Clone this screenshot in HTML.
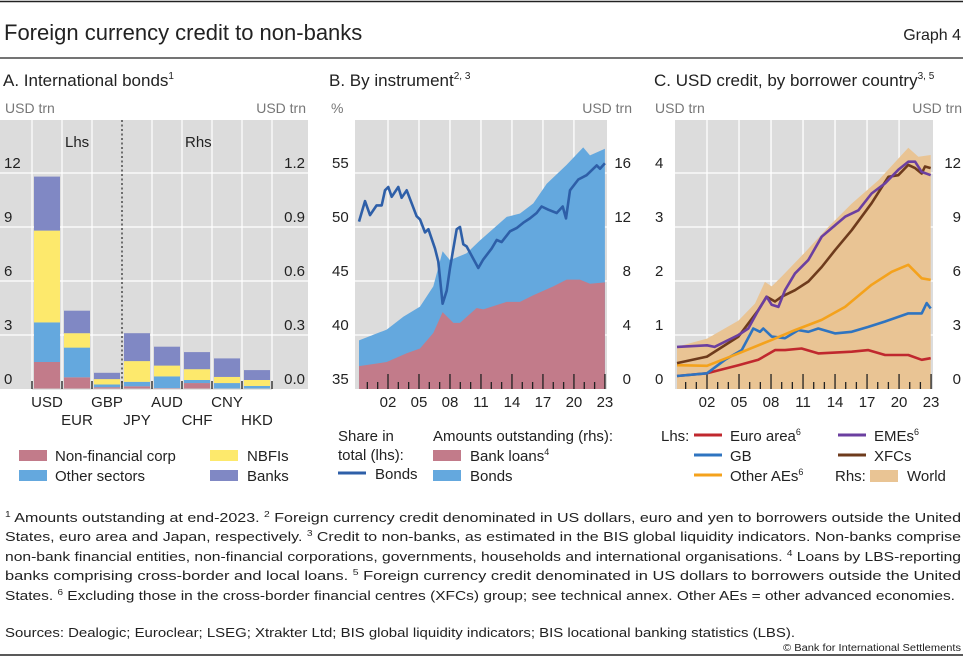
<!DOCTYPE html>
<html><head><meta charset="utf-8">
<style>
html,body{margin:0;padding:0;background:#fff;}
svg{display:block;font-family:"Liberation Sans",sans-serif;}
</style></head>
<body>
<svg id="chart" width="965" height="657" viewBox="0 0 965 657" xmlns="http://www.w3.org/2000/svg">
<line x1="0" y1="1.5" x2="963" y2="1.5" stroke="#222" stroke-width="1.5"/>
<text x="4" y="40" font-size="22" fill="#222">Foreign currency credit to non-banks</text>
<text x="961" y="40" font-size="16" fill="#222" text-anchor="end">Graph 4</text>
<line x1="0" y1="58" x2="963" y2="58" stroke="#222" stroke-width="1.2"/>

<text x="3" y="86" font-size="17" fill="#222">A. International bonds<tspan font-size="10" dy="-7">1</tspan></text>
<text x="329" y="86" font-size="17" fill="#222">B. By instrument<tspan font-size="10" dy="-7">2, 3</tspan></text>
<text x="654" y="86" font-size="17" fill="#222">C. USD credit, by borrower country<tspan font-size="10" dy="-7">3, 5</tspan></text>

<text x="5" y="113" font-size="14" fill="#777">USD trn</text>
<text x="306" y="113" font-size="14" fill="#777" text-anchor="end">USD trn</text>
<text x="331" y="113" font-size="14" fill="#777">%</text>
<text x="632" y="113" font-size="14" fill="#777" text-anchor="end">USD trn</text>
<text x="655" y="113" font-size="14" fill="#777">USD trn</text>
<text x="962" y="113" font-size="14" fill="#777" text-anchor="end">USD trn</text>

<g id="pa"></g>
<g id="pb"></g>
<g id="pc"></g>

<!-- Legend A -->
<g font-size="15" fill="#222">
<rect x="19" y="450" width="28" height="11" fill="#c27b8a"/>
<text x="55" y="461">Non-financial corp</text>
<rect x="19" y="470" width="28" height="11" fill="#64a8de"/>
<text x="55" y="481">Other sectors</text>
<rect x="210" y="450" width="28" height="11" fill="#fde96c"/>
<text x="247" y="461">NBFIs</text>
<rect x="210" y="470" width="28" height="11" fill="#8088c4"/>
<text x="247" y="481">Banks</text>
</g>
<!-- Legend B -->
<g font-size="15" fill="#222">
<text x="338" y="441">Share in</text>
<text x="338" y="460">total (lhs):</text>
<line x1="338" y1="473" x2="366" y2="473" stroke="#2e5fa8" stroke-width="3"/>
<text x="375" y="479">Bonds</text>
<text x="433" y="441">Amounts outstanding (rhs):</text>
<rect x="433" y="450" width="28" height="11" fill="#c27b8a"/>
<text x="470" y="461">Bank loans<tspan font-size="9" dy="-6">4</tspan></text>
<rect x="433" y="470" width="28" height="11" fill="#64a8de"/>
<text x="470" y="481">Bonds</text>
</g>
<!-- Legend C -->
<g font-size="15" fill="#222">
<text x="661" y="441">Lhs:</text>
<line x1="694" y1="435" x2="722" y2="435" stroke="#c0282e" stroke-width="3"/>
<text x="730" y="441">Euro area<tspan font-size="9" dy="-6">6</tspan></text>
<line x1="694" y1="455" x2="722" y2="455" stroke="#2f74c0" stroke-width="3"/>
<text x="730" y="461">GB</text>
<line x1="694" y1="475" x2="722" y2="475" stroke="#f4a21c" stroke-width="3"/>
<text x="730" y="481">Other AEs<tspan font-size="9" dy="-6">6</tspan></text>
<line x1="838" y1="435" x2="866" y2="435" stroke="#6b3fa0" stroke-width="3"/>
<text x="874" y="441">EMEs<tspan font-size="9" dy="-6">6</tspan></text>
<line x1="838" y1="455" x2="866" y2="455" stroke="#6e3b1c" stroke-width="3"/>
<text x="874" y="461">XFCs</text>
<text x="835" y="481">Rhs:</text>
<rect x="870" y="470" width="28" height="12" fill="#e9c494"/>
<text x="907" y="481">World</text>
</g>

<!-- Footnotes -->
<g font-size="12.5" fill="#222">
<text x="5" y="522" textLength="956" lengthAdjust="spacingAndGlyphs"><tspan font-size="8" dy="-5">1</tspan><tspan dy="5">  Amounts outstanding at end-2023.   </tspan><tspan font-size="8" dy="-5">2</tspan><tspan dy="5">  Foreign currency credit denominated in US dollars, euro and yen to borrowers outside the United</tspan></text>
<text x="5" y="541" textLength="956" lengthAdjust="spacingAndGlyphs">States, euro area and Japan, respectively.   <tspan font-size="8" dy="-5">3</tspan><tspan dy="5">  Credit to non-banks, as estimated in the BIS global liquidity indicators. Non-banks comprise</tspan></text>
<text x="5" y="561" textLength="956" lengthAdjust="spacingAndGlyphs">non-bank financial entities, non-financial corporations, governments, households and international organisations.   <tspan font-size="8" dy="-5">4</tspan><tspan dy="5">  Loans by LBS-reporting</tspan></text>
<text x="5" y="580" textLength="956" lengthAdjust="spacingAndGlyphs">banks comprising cross-border and local loans.   <tspan font-size="8" dy="-5">5</tspan><tspan dy="5">  Foreign currency credit denominated in US dollars to borrowers outside the United</tspan></text>
<text x="5" y="600" textLength="950" lengthAdjust="spacingAndGlyphs">States.   <tspan font-size="8" dy="-5">6</tspan><tspan dy="5">  Excluding those in the cross-border financial centres (XFCs) group; see technical annex. Other AEs = other advanced economies.</tspan></text>
<text x="5" y="637" textLength="790" lengthAdjust="spacingAndGlyphs">Sources: Dealogic; Euroclear; LSEG; Xtrakter Ltd; BIS global liquidity indicators; BIS locational banking statistics (LBS).</text>
<text x="961" y="651" font-size="10" text-anchor="end" textLength="178" lengthAdjust="spacingAndGlyphs">© Bank for International Settlements</text>
</g>
<line x1="0" y1="655" x2="963" y2="655" stroke="#222" stroke-width="1.5"/>
</svg>
<script>
// ---------- Panel A data ----------
const aCategories = ["USD","EUR","GBP","JPY","AUD","CHF","CNY","HKD"];
const aAxisSide = ["lhs","lhs","lhs","rhs","rhs","rhs","rhs","rhs"];
const aNonFinancial = [1.5, 0.65, 0.1, 0.015, 0.005, 0.033, 0.003, 0.003];
const aOtherSectors = [2.2, 1.65, 0.15, 0.025, 0.065, 0.017, 0.03, 0.014];
const aNBFIs = [5.1, 0.8, 0.3, 0.115, 0.06, 0.06, 0.034, 0.033];
const aBanks = [3.0, 1.25, 0.35, 0.155, 0.105, 0.095, 0.103, 0.055];
const aLeftTicks = [0, 3, 6, 9, 12];
const aRightTicks = ["0.0","0.3","0.6","0.9","1.2"];

// ---------- Panel B data ----------
const bShareYears = [1999.19,1999.77,2000.26,2000.9,2001.39,2001.71,2002.03,2002.36,2003.0,2003.32,2003.81,2004.77,2005.1,2005.58,2005.91,2006.55,2006.87,2007.29,2007.68,2008.0,2008.65,2008.97,2009.29,2009.61,2010.74,2011.23,2012.03,2012.52,2013.0,2013.81,2014.45,2015.1,2015.74,2016.39,2016.87,2017.52,2018.33,2018.91,2019.23,2019.62,2020.42,2021.23,2022.2,2022.52,2023.0];
const bShareBonds = [50.5,52.4,51.1,52.0,52.0,53.4,53.7,52.8,53.7,52.7,53.4,51.0,50.7,49.5,49.8,48.0,46.8,42.9,44.1,46.2,49.8,50.0,48.4,48.2,46.2,47.0,48.0,48.8,48.6,49.6,49.9,50.4,50.8,51.3,51.9,51.6,51.3,51.9,50.8,53.4,54.4,54.8,55.7,55.4,55.9];
const bLoanYears = [1999.19,2001.87,2003.81,2005.1,2006.39,2007.29,2008.33,2008.97,2010.58,2011.23,2013.49,2014.78,2016.07,2018.0,2019.29,2020.58,2021.55,2023.0];
const bBankLoans = [1.7,2.0,2.65,3.0,4.15,5.7,4.9,4.9,6.0,5.9,6.45,6.45,6.95,7.6,8.1,8.1,7.8,7.9];
const bTotalYears = [1999.19,2001.87,2003.48,2005.1,2006.39,2007.29,2008.0,2009.61,2010.9,2013.49,2014.78,2016.07,2017.36,2019.29,2020.9,2021.55,2023.0];
const bTotalCredit = [3.6,4.4,5.35,6.1,7.6,10.2,9.55,10.05,11.0,12.75,13.0,13.75,15.2,16.6,17.9,17.3,17.8];
const bLeftTicks = [35,40,45,50,55];
const bRightTicks = [0,4,8,12,16];
const yearTickLabels = ["02","05","08","11","14","17","20","23"];

// ---------- Panel C data ----------
const cWorldYears = [1999.19,2002.0,2004.94,2006.5,2007.43,2008.06,2009.0,2011.19,2013.37,2015.56,2018.06,2020.87,2021.81,2022.97];
const cWorld = [2.35,2.8,3.8,4.75,5.95,5.7,6.25,7.6,9.0,10.3,11.6,13.4,12.9,13.0];
const cEmeYears = [1999.19,2002.0,2002.7,2004.94,2005.87,2006.81,2007.59,2008.06,2008.69,2009.31,2010.25,2011.5,2012.75,2013.69,2014.94,2016.19,2017.43,2018.69,2019.93,2020.87,2021.5,2022.12,2022.97];
const cEmes = [0.78,0.81,0.78,1.0,1.12,1.46,1.71,1.56,1.52,1.83,2.14,2.39,2.82,2.98,3.19,3.31,3.62,3.81,4.06,4.21,4.21,4.02,3.96];
const cXfcYears = [1999.19,2002.0,2004.94,2006.81,2007.59,2008.37,2009.0,2010.25,2011.5,2012.75,2014.0,2015.56,2017.43,2019.0,2019.93,2020.87,2021.5,2022.12,2022.43,2022.97];
const cXfcs = [0.48,0.6,0.97,1.46,1.71,1.62,1.71,1.83,1.99,2.26,2.57,2.94,3.44,3.93,3.96,4.15,4.09,3.99,4.12,4.09];
const cOtherYears = [1999.19,2002.0,2004.94,2008.06,2010.25,2012.75,2014.94,2017.43,2019.31,2020.87,2022.12,2022.97];
const cOtherAEs = [0.44,0.43,0.66,0.91,1.09,1.28,1.52,1.93,2.17,2.3,2.05,2.02];
const cGbYears = [1999.19,2002.0,2003.69,2005.25,2006.34,2006.97,2007.28,2008.06,2009.31,2010.56,2011.5,2012.43,2014.0,2015.56,2017.12,2018.69,2020.87,2022.12,2022.59,2022.97];
const cGb = [0.24,0.29,0.54,0.72,1.12,1.06,1.12,0.97,0.94,1.09,1.06,1.12,1.03,1.06,1.15,1.25,1.40,1.40,1.59,1.49];
const cEuroYears = [1999.19,2002.0,2004.94,2006.81,2008.37,2009.31,2010.87,2012.43,2015.56,2017.12,2018.69,2020.87,2022.12,2022.97];
const cEuro = [0.24,0.29,0.44,0.54,0.72,0.72,0.75,0.66,0.69,0.72,0.63,0.63,0.54,0.57];
const cLeftTicks = [0,1,2,3,4];
const cRightTicks = [0,3,6,9,12];

// ---------- helpers ----------
const NS = "http://www.w3.org/2000/svg";
function mk(parent, tag, attrs){ const e=document.createElementNS(NS,tag); for(const k in attrs) e.setAttribute(k,attrs[k]); parent.appendChild(e); return e; }
function txt(parent, x, y, s, anchor, size, fill){ const t=mk(parent,"text",{x:x,y:y,"font-size":size||15,fill:fill||"#222","text-anchor":anchor||"start"}); t.textContent=s; return t; }
function pathFrom(xs, ys, fx, fy){ return xs.map((v,i)=>(i?"L":"M")+fx(v).toFixed(1)+","+fy(ys[i]).toFixed(1)).join(""); }

const Y0 = 389, YTOP = 120, PH = Y0 - 173;

// ---------- Panel A ----------
(function(){
  const g=document.getElementById("pa");
  const X0=0, X1=308;
  const bg=mk(g,"rect",{x:X0,y:YTOP,width:X1-X0,height:Y0-YTOP,fill:"#dcdcdc"});
  
  
  const yL=v=>Y0-v/aLeftTicks[aLeftTicks.length-1]*PH;
  const yR=v=>Y0-v/1.2*PH;
  aLeftTicks.forEach((t,i)=>{
    if(i>0){ const l=mk(g,"line",{x1:X0,x2:X1,y1:yL(t),y2:yL(t),stroke:"#fff","stroke-width":1.2});
      
       }
    const a=txt(g,4,yL(t)-5,String(t),"start",15);
    
    
    const b=txt(g,305,yL(t)-5,aRightTicks[i],"end",15);
    
    
  });
  const cw=30, cx0=32;
  for(let i=0;i<=aCategories.length;i++){
    const x=cx0+i*cw;
    if(i!==3){ const v=mk(g,"line",{x1:x,x2:x,y1:YTOP,y2:Y0,stroke:"#fff","stroke-width":1.2});
      
       }
  }
  const div=mk(g,"line",{x1:cx0+3*cw,x2:cx0+3*cw,y1:YTOP,y2:Y0,stroke:"#333","stroke-width":1.3,"stroke-dasharray":"2,2.5"});
  
  
  const l1=txt(g,65,147,"Lhs","start",15);  
  const l2=txt(g,185,147,"Rhs","start",15);  
  const series=[[aNonFinancial,"#c27b8a","nfc"],[aOtherSectors,"#64a8de","other-sectors"],[aNBFIs,"#fde96c","nbfis"],[aBanks,"#8088c4","banks"]];
  aCategories.forEach((c,i)=>{
    const fy = aAxisSide[i]==="lhs"?yL:yR;
    let base=0;
    series.forEach(s=>{
      const v=s[0][i];
      const r=mk(g,"rect",{x:cx0+i*cw+2,y:fy(base+v),width:cw-4,height:Math.max(0,fy(base)-fy(base+v)),fill:s[1]});
      
      
      base+=v;
    });
    const lab=txt(g,cx0+i*cw+15,i%2===0?407:425,c,"middle",15);
    
    
  });
  const ax=mk(g,"line",{x1:cx0,x2:cx0+8*cw,y1:Y0,y2:Y0,stroke:"#ccc","stroke-width":1});
  
  
  for(let i=0;i<=aCategories.length;i++){
    const t=mk(g,"line",{x1:cx0+i*cw,x2:cx0+i*cw,y1:Y0,y2:Y0-8,stroke:"#222","stroke-width":1.3});
    
    
  }
})();

function timeAxis(g, name, X0, X1, fx){
  for(let yr=2000; yr<=2023; yr++){
    const big=(yr-2002)%3===0;
    const t=mk(g,"line",{x1:fx(yr),x2:fx(yr),y1:Y0,y2:Y0-(big?15:7),stroke:"#222","stroke-width":1.3});
    
    
  }
  yearTickLabels.forEach((s,i)=>{
    const l=txt(g,fx(2002+3*i),407,s,"middle",15);
    
    
  });
}
function bgGrid(g,name,X0,X1,fx){
  const bg=mk(g,"rect",{x:X0,y:YTOP,width:X1-X0,height:Y0-YTOP,fill:"#dcdcdc"});
  
  
  for(let yr=2002; yr<=2020; yr+=3){
    const v=mk(g,"line",{x1:fx(yr),x2:fx(yr),y1:YTOP,y2:Y0,stroke:"#fff","stroke-width":1.3});
    
    
  }
}

// ---------- Panel B ----------
(function(){
  const g=document.getElementById("pb");
  const X0=355, X1=607;
  const fx=yr=>388+(yr-2002)*10.33;
  bgGrid(g,"panel-b",X0,X1,fx);
  const yL=v=>Y0-(v-35)/20*PH;
  const yR=v=>Y0-v/16*PH;
  bLeftTicks.forEach((t,i)=>{
    if(i>0){ const l=mk(g,"line",{x1:X0,x2:X1,y1:yL(t),y2:yL(t),stroke:"#fff","stroke-width":1.3});
      
       }
    const a=txt(g,332,yL(t)-5,String(t),"start",15);
    
    
    const b=txt(g,631,yR(bRightTicks[i])-5,String(bRightTicks[i]),"end",15);
    
    
  });
  const xs0=bTotalYears[0], xs1=bTotalYears[bTotalYears.length-1];
  const tot=mk(g,"path",{d:pathFrom(bTotalYears,bTotalCredit,fx,yR)+"L"+fx(xs1)+","+Y0+"L"+fx(xs0)+","+Y0+"Z",fill:"#64a8de"});
  
  
  const lx0=bLoanYears[0], lx1=bLoanYears[bLoanYears.length-1];
  const ln=mk(g,"path",{d:pathFrom(bLoanYears,bBankLoans,fx,yR)+"L"+fx(lx1)+","+Y0+"L"+fx(lx0)+","+Y0+"Z",fill:"#c27b8a"});
  
  
  const sh=mk(g,"path",{d:pathFrom(bShareYears,bShareBonds,fx,yL),fill:"none",stroke:"#2e5fa8","stroke-width":2.6,"stroke-linejoin":"round"});
  
  
  timeAxis(g,"panel-b",X0,X1,fx);
})();

// ---------- Panel C ----------
(function(){
  const g=document.getElementById("pc");
  const X0=675, X1=933;
  const fx=yr=>707+(yr-2002)*10.67;
  bgGrid(g,"panel-c",X0,X1,fx);
  const yL=v=>Y0-v/4*PH;
  const yR=v=>Y0-v/12*PH;
  cLeftTicks.forEach((t,i)=>{
    if(i>0){ const l=mk(g,"line",{x1:X0,x2:X1,y1:yL(t),y2:yL(t),stroke:"#fff","stroke-width":1.3});
      
       }
    const a=txt(g,655,yL(t)-5,String(t),"start",15);
    
    
    const b=txt(g,961,yR(cRightTicks[i])-5,String(cRightTicks[i]),"end",15);
    
    
  });
  const w0=cWorldYears[0], w1=cWorldYears[cWorldYears.length-1];
  const wa=mk(g,"path",{d:pathFrom(cWorldYears,cWorld,fx,yR)+"L"+fx(w1)+","+Y0+"L"+fx(w0)+","+Y0+"Z",fill:"#e9c494"});
  
  
  timeAxis(g,"panel-c",X0,X1,fx);
  const lines=[[cEuroYears,cEuro,"#c0282e","line-euro-area"],[cGbYears,cGb,"#2f74c0","line-gb"],[cOtherYears,cOtherAEs,"#f4a21c","line-other-aes"],[cXfcYears,cXfcs,"#6e3b1c","line-xfcs"],[cEmeYears,cEmes,"#6b3fa0","line-emes"]];
  lines.forEach(s=>{
    const p=mk(g,"path",{d:pathFrom(s[0],s[1],fx,yL),fill:"none",stroke:s[2],"stroke-width":2.6,"stroke-linejoin":"round"});
    
    
  });
})();
</script>
</body></html>
